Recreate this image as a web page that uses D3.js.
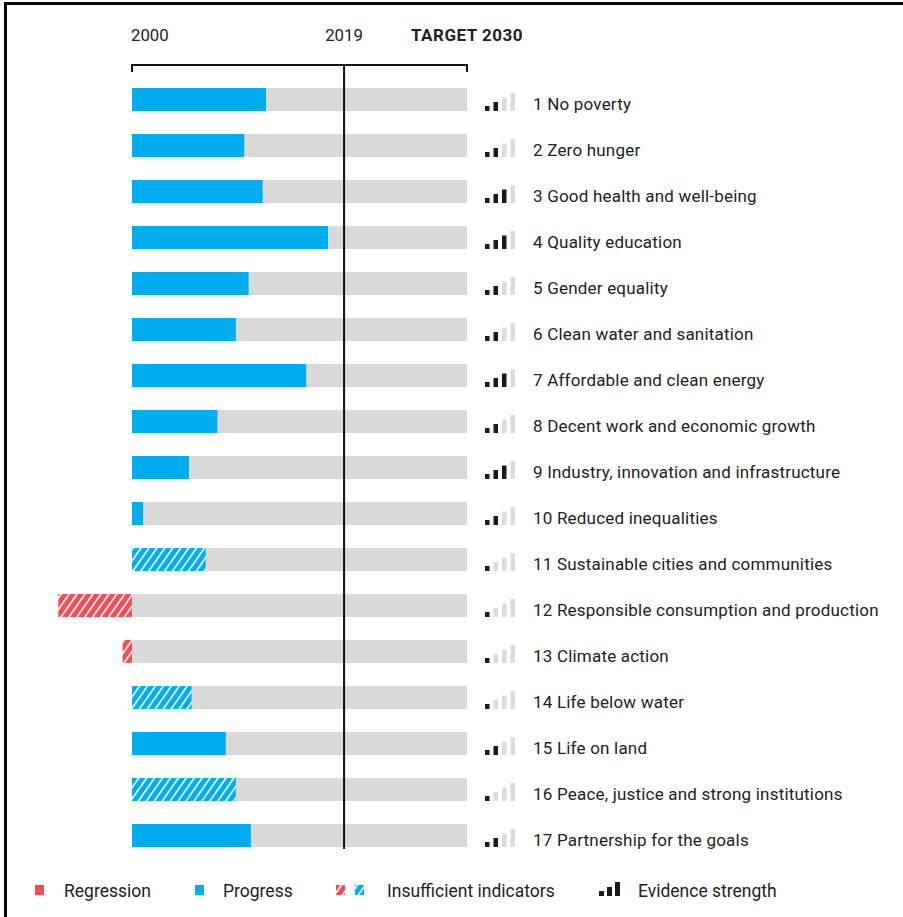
<!DOCTYPE html>
<html><head><meta charset="utf-8">
<script src="https://cdn.jsdelivr.net/npm/d3@7"></script>
<style>body{margin:0;background:#fff}svg{display:block}text{font-family:Roboto,"Noto Sans",sans-serif}</style>
</head><body>
<svg id="c" width="903" height="917"></svg>
<script>
// ---- data ----
const goals = ["1 No poverty","2 Zero hunger","3 Good health and well-being","4 Quality education","5 Gender equality","6 Clean water and sanitation","7 Affordable and clean energy","8 Decent work and economic growth","9 Industry, innovation and infrastructure","10 Reduced inequalities","11 Sustainable cities and communities","12 Responsible consumption and production","13 Climate action","14 Life below water","15 Life on land","16 Peace, justice and strong institutions","17 Partnership for the goals"];
// progress towards 2030 target (% of distance from 2000 to target)
const progress = [40, 33.5, 39, 58.5, 34.8, 31, 52, 25.5, 17, 3.3, 22, -22, -2.8, 17.8, 28, 31, 35.5];
// insufficient indicators flag
const insufficient = [0,0,0,0,0,0,0,0,0,0,1,1,1,1,0,1,0];
// evidence strength (1-4)
const evidence = [2,2,3,3,2,2,3,2,3,2,1,1,1,1,2,1,2];
const tickValues = [0, 63.3, 100];
const tickLabels = ["2000","2019","TARGET 2030"];
const legendItems = ["Regression","Progress","Insufficient indicators","Evidence strength"];

const BLUE="#00aeef", RED="#f04e55", GREY="#d9d9d9", DARK="#1a1a1a";

const svg = d3.select("#c");
// frame
svg.append("path").attr("d","M5.5,917 V3.5 H903").attr("fill","none").attr("stroke","#000").attr("stroke-width",3);

const defs = svg.append("defs");
[["hatchBlue",BLUE],["hatchRed",RED]].forEach(([id,c])=>{
  const p = defs.append("pattern").attr("id",id).attr("patternUnits","userSpaceOnUse")
    .attr("width",6.5).attr("height",6.5).attr("patternTransform","rotate(35)");
  p.append("rect").attr("width",6.5).attr("height",6.5).attr("fill",c);
  p.append("rect").attr("x",0).attr("width",1.6).attr("height",6.5).attr("fill","#fff");
});

const x = d3.scaleLinear().domain([0,100]).range([132,467]);
const y = d3.scaleBand().domain(goals).range([76.5, 76.5+17*46]).paddingInner(0.5).paddingOuter(0.25);

// background bars
svg.append("g").selectAll("rect").data(goals).join("rect")
  .attr("x",x(0)).attr("width",x(100)-x(0))
  .attr("y",d=>y(d)).attr("height",y.bandwidth()).attr("fill",GREY);

// value bars
svg.append("g").selectAll("rect").data(goals).join("rect")
  .attr("x",(d,i)=>x(Math.min(0,progress[i])))
  .attr("width",(d,i)=>Math.abs(x(progress[i])-x(0)))
  .attr("y",d=>y(d)).attr("height",y.bandwidth())
  .attr("fill",(d,i)=>{
    const neg = progress[i]<0;
    if(insufficient[i]) return neg?"url(#hatchRed)":"url(#hatchBlue)";
    return neg?RED:BLUE;
  });

// axis bracket
const bt=65, bb=72;
svg.append("path").attr("d",`M${x(0)},${bb} V${bt} H${x(100)} V${bb}`)
  .attr("fill","none").attr("stroke","#111").attr("stroke-width",2);
// 2019 line
svg.append("line").attr("x1",x(tickValues[1])).attr("x2",x(tickValues[1]))
  .attr("y1",bt).attr("y2",y(goals[16])+y.bandwidth()+2)
  .attr("stroke","#111").attr("stroke-width",2);
// tick labels
svg.append("g").selectAll("text").data(tickValues).join("text")
  .attr("x",(d,i)=>i===0?x(d)-1:x(d))
  .attr("y",41)
  .attr("text-anchor",(d,i)=>i===0?"start":"middle")
  .attr("font-size",(d,i)=>i===2?17:16.8)
  .attr("letter-spacing",(d,i)=>i===2?0.5:0)
  .attr("font-weight",(d,i)=>i===2?"bold":"normal")
  .attr("fill","#222")
  .text((d,i)=>tickLabels[i]);

// evidence icons
const iconX=[485,493.5,502,510.5], iconH=[5,9,13.5,18], iconW=4.5;
function drawIcon(g, level, nBars, baseX, baseY, lightCol){
  for(let k=0;k<nBars;k++){
    g.append("rect").attr("x",baseX+(iconX[k]-485)).attr("y",baseY-iconH[k])
      .attr("width",iconW).attr("height",iconH[k])
      .attr("fill",k<level?DARK:lightCol);
  }
}
const ig = svg.append("g");
goals.forEach((g,i)=>{
  drawIcon(ig, evidence[i], 4, 485, y(g)+y.bandwidth(), "#dcdcdc");
});

// labels
svg.append("g").selectAll("text").data(goals).join("text")
  .attr("x",533).attr("y",d=>y(d)+y.bandwidth()/2+10)
  .attr("font-size",17).attr("letter-spacing",0.2).attr("fill","#222").text(d=>d);

// legend
const ly=890;
const lg = svg.append("g");
const lt = (xx,t)=>lg.append("text").attr("x",xx).attr("y",ly+6.5).attr("font-size",17.5).attr("fill","#222").text(t);
lg.append("rect").attr("x",35).attr("y",ly-5).attr("width",9).attr("height",10).attr("fill",RED);
lt(64,legendItems[0]);
lg.append("rect").attr("x",195).attr("y",ly-5).attr("width",9).attr("height",10).attr("fill",BLUE);
lt(223,legendItems[1]);
lg.append("rect").attr("x",336).attr("y",ly-5).attr("width",9).attr("height",10).attr("fill","url(#hatchRed)");
lg.append("rect").attr("x",355).attr("y",ly-5).attr("width",9).attr("height",10).attr("fill","url(#hatchBlue)");
lt(387,legendItems[2]);
[[599,5],[607,9],[615,14]].forEach(([bx,h])=>{
  lg.append("rect").attr("x",bx).attr("y",ly+6-h).attr("width",5).attr("height",h).attr("fill",DARK);
});
lt(638,legendItems[3]);
</script>
</body></html>
